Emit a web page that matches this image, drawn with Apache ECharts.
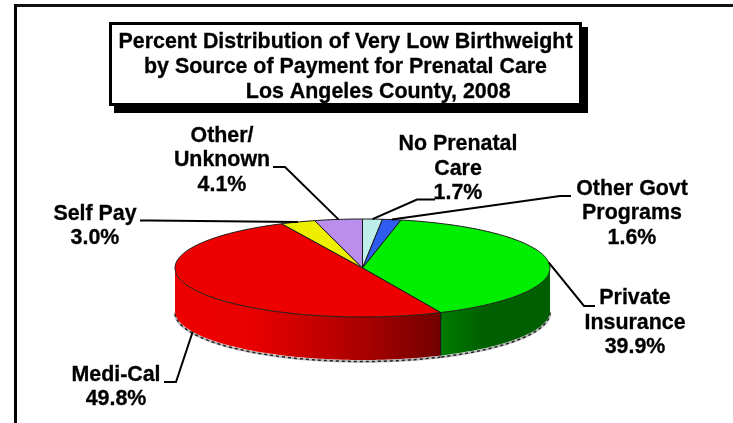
<!DOCTYPE html>
<html><head><meta charset="utf-8">
<style>html,body{margin:0;padding:0;background:#fff}#c{width:733px;height:423px}</style>
<script src="https://cdn.jsdelivr.net/npm/echarts@6/dist/echarts.min.js"></script>
</head><body><div id="c"></div>
<script>
const categories = ['No Prenatal\nCare','Other Govt\nPrograms','Private\nInsurance','Medi-Cal','Self Pay','Other/\nUnknown'];
const values = [1.7,1.6,39.9,49.8,3.0,4.1];
const topColors = ['#BDEEEA','#2E5CEE','#00EE00','#EE0000','#EEEE00','#BB8EEE'];

const font = 'bold 21.4px "Liberation Sans", Arial, sans-serif';
const CX = 362.5, CY = 268, RX = 187.5, RY = 49, DEPTH = 43;
const K = RY / RX;
const labelPos = [[458,169],[632,213.5],[635,323],[116,387],[95,226],[222,160.5]];
const elbows = [
  [[435,199.5],[417,199.5]],
  [[571,196],[560,196]],
  [[595,306],[584,306]],
  [[164,382],[176,382]],
  [[140,220.5],[150,220.5]],
  [[273,167],[285,167]]
];
const total = values.reduce((a,b)=>a+b,0);
const starts = []; values.reduce((a,v,i)=>(starts[i]=a,a+v),0);
const FRONT_A = total/4, FRONT_B = total*3/4;
const STEP = total/360;

function pt(api,r,a,dz){const p=api.coord([r,a]);return [p[0],CY+(p[1]-CY)*K+(dz||0)];}
function arc(api,a0,a1,dz){const out=[];for(let a=a0;a<a1;a+=STEP)out.push(pt(api,1,a,dz));out.push(pt(api,1,a1,dz));return out;}

const sideFill = {
  2:new echarts.graphic.LinearGradient(440,0,550,0,[{offset:0,color:'#007C00'},{offset:.4,color:'#005F00'},{offset:1,color:'#005F00'}],true),
  3:new echarts.graphic.LinearGradient(175,0,440,0,[{offset:0,color:'#EE0000'},{offset:.3,color:'#E80000'},{offset:.72,color:'#A80000'},{offset:1,color:'#720000'}],true)
};

function renderSide(params,api){
  const i=params.dataIndex, a0=Math.max(starts[i],FRONT_A), a1=Math.min(starts[i]+values[i],FRONT_B);
  if(a1<=a0) return {type:'group',children:[]};
  const top=arc(api,a0,a1,0), bot=arc(api,a0,a1,DEPTH);
  const shadow=arc(api,a0,a1,DEPTH+1.5);
  const kids=[
    {type:'polyline',shape:{points:shadow},style:{stroke:'#bbb',lineWidth:2.5,fill:null}},
    {type:'polyline',shape:{points:shadow},style:{stroke:'#222',lineWidth:1.5,lineDash:[3,3],fill:null}},
    {type:'polygon',shape:{points:top.concat(bot.reverse())},style:{fill:sideFill[i]||topColors[i]}}
  ];
  if(starts[i]>FRONT_A){const a=pt(api,1,starts[i],0),b=pt(api,1,starts[i],DEPTH);
    kids.push({type:'line',shape:{x1:a[0],y1:a[1],x2:b[0],y2:b[1]},style:{stroke:'#111',lineWidth:1}});}
  return {type:'group',children:kids};
}
function renderTop(params,api){
  const i=params.dataIndex, c=pt(api,0,starts[i]);
  return {type:'polygon',shape:{points:[c].concat(arc(api,starts[i],starts[i]+values[i],0))},
    style:{fill:topColors[i],stroke:'#1a1a1a',lineWidth:1,lineJoin:'round'}};
}
function renderLabel(params,api){
  const i=params.dataIndex, mid=starts[i]+values[i]/2;
  const front=mid>FRONT_A&&mid<FRONT_B;
  const anchor=pt(api,1,mid,front?DEPTH:0);
  return {type:'group',children:[
    {type:'polyline',shape:{points:elbows[i].concat([anchor])},style:{stroke:'#000',lineWidth:2,fill:null}},
    {type:'text',style:{x:labelPos[i][0],y:labelPos[i][1],text:categories[i]+'\n'+values[i].toFixed(1)+'%',
      font:font,fill:'#000',stroke:'#000',lineWidth:0.3,align:'center',verticalAlign:'middle',lineHeight:24.5}}
  ]};
}
const rows = values.map((v,i)=>[1,starts[i]+v/2]);
const chart = echarts.init(document.getElementById('c'),null,{renderer:'canvas'});
chart.setOption({
  animation:false,
  backgroundColor:'#fff',
  title:{
    text:'Percent Distribution of Very Low Birthweight\nby Source of Payment for Prenatal Care\n           Los Angeles County, 2008',
    left:345.5,top:30,textAlign:'center',z:10,padding:0,
    textStyle:{fontFamily:'"Liberation Sans", Arial, sans-serif',fontWeight:'bold',fontSize:21.4,lineHeight:25,color:'#000',textBorderColor:'#000',textBorderWidth:0.3}
  },
  polar:{center:[CX,CY],radius:RX},
  angleAxis:{type:'value',min:0,max:total,startAngle:90,show:false},
  radiusAxis:{type:'value',min:0,max:1,show:false},
  graphic:[
    {type:'line',silent:true,shape:{x1:15.5,y1:5.5,x2:733,y2:5.5},style:{stroke:'#111',lineWidth:3}},
    {type:'line',silent:true,shape:{x1:15.5,y1:4,x2:15.5,y2:423},style:{stroke:'#000',lineWidth:3}},
    {type:'rect',silent:true,shape:{x:114,y:27,width:474,height:86},style:{fill:'#000'}},
    {type:'rect',silent:true,shape:{x:110.5,y:23.5,width:470,height:81},style:{fill:'#fff',stroke:'#000',lineWidth:3}}
  ],
  series:[
    {type:'custom',coordinateSystem:'polar',silent:true,z:2,renderItem:renderSide,data:rows,encode:{radius:0,angle:1}},
    {type:'custom',coordinateSystem:'polar',silent:true,z:3,renderItem:renderTop,data:rows,encode:{radius:0,angle:1}},
    {type:'custom',coordinateSystem:'polar',silent:true,z:4,renderItem:renderLabel,data:rows,encode:{radius:0,angle:1}}
  ]
});
</script></body></html>
